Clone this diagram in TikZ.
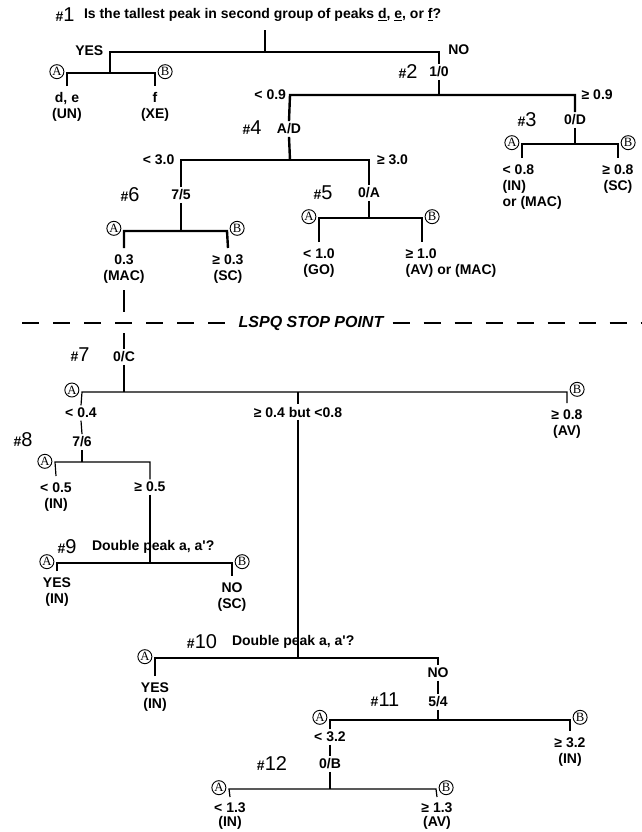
\documentclass[tikz,border=0pt]{standalone}
\usepackage{fontspec}
\setmainfont{Liberation Sans}
\newfontfamily\circfont{Liberation Serif}
\usetikzlibrary{positioning}

\newcommand{\stepnum}[1]{{\fontsize{10.5}{10.5}\selectfont\bfseries\#}{\fontsize{15}{15}\selectfont #1}}

\tikzset{
  lbl/.style={font=\fontsize{10.5}{12}\selectfont\bfseries, align=center, inner sep=1pt, outer sep=4pt},
  leaf/.style={lbl, anchor=north},
  leafw/.style={lbl, anchor=north west, align=left},
  onstem/.style={lbl, inner sep=0.5pt, outer sep=1.5pt},
  side/.style={lbl, inner sep=0pt, outer sep=0pt},
  ask/.style={lbl, anchor=west, inner sep=0pt, outer sep=0pt},
  num/.style={inner sep=0pt},
  circ/.style={circle, draw, line width=0.7pt, inner sep=0pt, minimum size=10.5pt,
    font=\circfont\fontsize{9.5}{9.5}\selectfont},
  heavy/.style={line width=1.8pt},
  light/.style={line width=0.9pt},
}

\begin{document}
\begin{tikzpicture}[x=0.75pt, y=-0.75pt, line join=miter]
\useasboundingbox (0,0) rectangle (642,832);

% #1
\node[num] (n1) at (65,15) {\stepnum{1}};
\node[ask] (q1) at (84,15) {Is the tallest peak in second group of peaks \underline{d}, \underline{e}, or \underline{f}?};
\coordinate (t1) at (265,30);
\coordinate (j1) at (265,52);
\coordinate (e1l) at (110,52);
\coordinate (e1r) at (439,52);
\coordinate (j1a) at (110,73);
\coordinate (e1al) at (67,73);
\coordinate (e1ar) at (155,73);
\node[side, left=5pt of e1l, yshift=1pt] (yes1) {YES};
\node[side, right=7pt of e1r, yshift=1.5pt] (no1) {NO};
\node[circ, left=2pt of e1al, yshift=1pt] (a1) {A};
\node[circ, right=2pt of e1ar, yshift=1pt] (b1) {B};
\node[leaf] (de) at (67,86) {d, e\\(UN)};
\node[leaf] (f) at (155,86) {f\\(XE)};
\node[onstem] (r10) at (439,72) {1/0};
\node[num] (n2) at (408,72) {\stepnum{2}};
\draw[heavy] (t1) -- (j1);
\draw[heavy] (j1a) -- (e1l) -- (e1r) -- (r10.north);
\draw[heavy] (de.north) -- (e1al) -- (e1ar) -- (f.north);

% #2
\coordinate (j2) at (439,95);
\coordinate (e2l) at (290,95);
\coordinate (e2r) at (575,95);
\node[side, left=3pt of e2l] (lt09) {< 0.9};
\node[side, right=5pt of e2r] (ge09) {≥ 0.9};
\node[onstem] (r0D) at (575,120) {0/D};
\node[num] (n3) at (527,120) {\stepnum{3}};
\node[onstem] (rAD) at (289,129) {A/D};
\node[num] (n4) at (252,128) {\stepnum{4}};
\draw[heavy] (r10.south) -- (j2);
\draw[heavy] (rAD.north) -- (e2l) -- (e2r) -- (r0D.north);

% #3
\coordinate (j3) at (575,144);
\coordinate (e3l) at (522,144);
\coordinate (e3r) at (618,144);
\node[circ, left=2pt of e3l, yshift=1pt] (a3) {A};
\node[circ, right=2pt of e3r, yshift=1pt] (b3) {B};
\node[leafw] (l3a) at (496,158) {< 0.8\\(IN)\\or (MAC)};
\node[leaf] (l3b) at (618,158) {≥ 0.8\\(SC)};
\draw[heavy] (r0D.south) -- (j3);
\draw[heavy] (e3l |- l3a.north) -- (e3l) -- (e3r) -- (l3b.north);

% #4
\coordinate (j4) at (290,160);
\coordinate (e4l) at (181,160);
\coordinate (e4r) at (369,160);
\node[side, left=5pt of e4l] (lt30) {< 3.0};
\node[side, right=6pt of e4r] (ge30) {≥ 3.0};
\node[onstem] (r75) at (181,195) {7/5};
\node[num] (n6) at (130,195) {\stepnum{6}};
\node[onstem] (r0A) at (369,193) {0/A};
\node[num] (n5) at (323,193) {\stepnum{5}};
\draw[heavy] (rAD.south) -- (j4);
\draw[heavy] (r75.north) -- (e4l) -- (e4r) -- (r0A.north);

% #6
\coordinate (j6) at (181,231);
\coordinate (e6l) at (124,231);
\coordinate (e6r) at (227,231);
\node[circ, left=2pt of e6l, yshift=2pt] (a6) {A};
\node[circ, right=2pt of e6r, yshift=2pt] (b6) {B};
\node[leaf] (l6a) at (124,248) {0.3\\(MAC)};
\node[leaf] (l6b) at (228,248) {≥ 0.3\\(SC)};
\draw[heavy] (r75.south) -- (j6);
\draw[heavy] (l6a.north) -- (e6l) -- (e6r) -- (l6b.north);

% #5
\coordinate (j5) at (369,218);
\coordinate (e5l) at (319,218);
\coordinate (e5r) at (422,218);
\node[circ, left=2pt of e5l, yshift=1pt] (a5) {A};
\node[circ, right=2pt of e5r, yshift=1pt] (b5) {B};
\node[leaf] (l5a) at (319,242) {< 1.0\\(GO)};
\node[leafw] (l5b) at (399,242) {≥ 1.0\\(AV) or (MAC)};
\draw[heavy] (r0A.south) -- (j5);
\draw[heavy] (l5a.north) -- (e5l) -- (e5r) -- (e5r |- l5b.north);

% stop point
\coordinate (s7a) at (124,290);
\coordinate (s7b) at (124,312);
\coordinate (d0) at (22,323);
\coordinate (d1) at (642,323);
\node[font=\fontsize{12}{12}\selectfont\bfseries\itshape, inner sep=0pt, outer xsep=7pt] (stop) at (311,323) {LSPQ STOP POINT};
\draw[light] (s7a) -- (s7b);
\draw[line width=2.2pt, dash pattern=on 12.75pt off 10.5pt] (d0) -- (stop.west);
\draw[line width=2.2pt, dash pattern=on 12.75pt off 10.5pt] (stop.east) -- (d1);

% #7
\coordinate (s7c) at (124,333);
\node[onstem] (r0C) at (124,357) {0/C};
\node[num] (n7) at (80,355) {\stepnum{7}};
\coordinate (j7) at (124,392);
\coordinate (e7l) at (82,392);
\coordinate (e7r) at (567,392);
\coordinate (j7m) at (298,392);
\node[circ, left=2pt of e7l, yshift=1.5pt] (a7) {A};
\node[circ, right=2pt of e7r, yshift=2pt] (b7) {B};
\node[onstem] (r04) at (81,413) {< 0.4};
\node[onstem] (rmid) at (298,412) {≥ 0.4 but <0.8};
\node[leaf] (l7b) at (567,403) {≥ 0.8\\(AV)};
\draw[light] (s7c) -- (r0C.north);
\draw[light] (r0C.south) -- (j7);
\draw[light] (r04.north) -- (e7l) -- (e7r) -- (l7b.north);
\draw[light] (j7m) -- (rmid.north);

% #8
\node[onstem] (r76) at (82,442) {7/6};
\node[num] (n8) at (23,440) {\stepnum{8}};
\coordinate (j8) at (82,462);
\coordinate (e8l) at (55,462);
\coordinate (e8r) at (150,462);
\node[circ, left=2pt of e8l, yshift=0.5pt] (a8) {A};
\node[leaf] (l8a) at (56,476) {< 0.5\\(IN)};
\node[onstem] (r05) at (150,487) {≥ 0.5};
\draw[light] (r04.south) -- (r76.north);
\draw[light] (r76.south) -- (j8);
\draw[light] (l8a.north) -- (e8l) -- (e8r) -- (r05.north);

% #9
\node[num] (n9) at (67,547) {\stepnum{9}};
\node[ask] (q9) at (92,547) {Double peak a, a\textquotesingle?};
\coordinate (j9) at (150,563);
\coordinate (e9l) at (57,563);
\coordinate (e9r) at (232,563);
\node[circ, left=2pt of e9l, yshift=1pt] (a9) {A};
\node[circ, right=2pt of e9r, yshift=1pt] (b9) {B};
\node[leaf] (l9a) at (57,571) {YES\\(IN)};
\node[leaf] (l9b) at (232,576) {NO\\(SC)};
\draw[light] (r05.south) -- (j9);
\draw[light] (l9a.north) -- (e9l) -- (e9r) -- (l9b.north);

% #10
\node[num] (n10) at (202,642) {\stepnum{10}};
\node[ask] (q10) at (232,642) {Double peak a, a\textquotesingle?};
\coordinate (j10) at (298,658);
\coordinate (e10l) at (155,658);
\coordinate (e10r) at (438,658);
\node[circ, left=2pt of e10l, yshift=1pt] (a10) {A};
\node[leaf] (l10a) at (155,676) {YES\\(IN)};
\node[onstem] (rno) at (438,673) {NO};
\draw[light] (rmid.south) -- (j10);
\draw[light] (l10a.north) -- (e10l) -- (e10r) -- (rno.north);

% #11
\node[onstem] (r54) at (438,702) {5/4};
\node[num] (n11) at (385,700) {\stepnum{11}};
\coordinate (j11) at (438,720);
\coordinate (e11l) at (330,720);
\coordinate (e11r) at (570,720);
\node[circ, left=2pt of e11l, yshift=2pt] (a11) {A};
\node[circ, right=2pt of e11r, yshift=2pt] (b11) {B};
\node[onstem] (r32) at (330,737) {< 3.2};
\node[leaf] (l11b) at (570,731) {≥ 3.2\\(IN)};
\draw[light] (rno.south) -- (r54.north);
\draw[light] (r54.south) -- (j11);
\draw[light] (r32.north) -- (e11l) -- (e11r) -- (l11b.north);

% #12
\node[onstem] (r0B) at (330,764) {0/B};
\node[num] (n12) at (272,764) {\stepnum{12}};
\coordinate (j12) at (330,789);
\coordinate (e12l) at (229,789);
\coordinate (e12r) at (436,789);
\node[circ, left=2pt of e12l, yshift=1pt] (a12) {A};
\node[circ, right=2pt of e12r, yshift=1pt] (b12) {B};
\node[leaf, font=\fontsize{10.5}{11}\selectfont\bfseries, outer sep=3pt] (l12a) at (230,797) {< 1.3\\(IN)};
\node[leaf, font=\fontsize{10.5}{11}\selectfont\bfseries, outer sep=3pt] (l12b) at (437,797) {≥ 1.3\\(AV)};
\draw[light] (r32.south) -- (r0B.north);
\draw[light] (r0B.south) -- (j12);
\draw[light] (l12a.north) -- (e12l) -- (e12r) -- (l12b.north);
\end{tikzpicture}
\end{document}
